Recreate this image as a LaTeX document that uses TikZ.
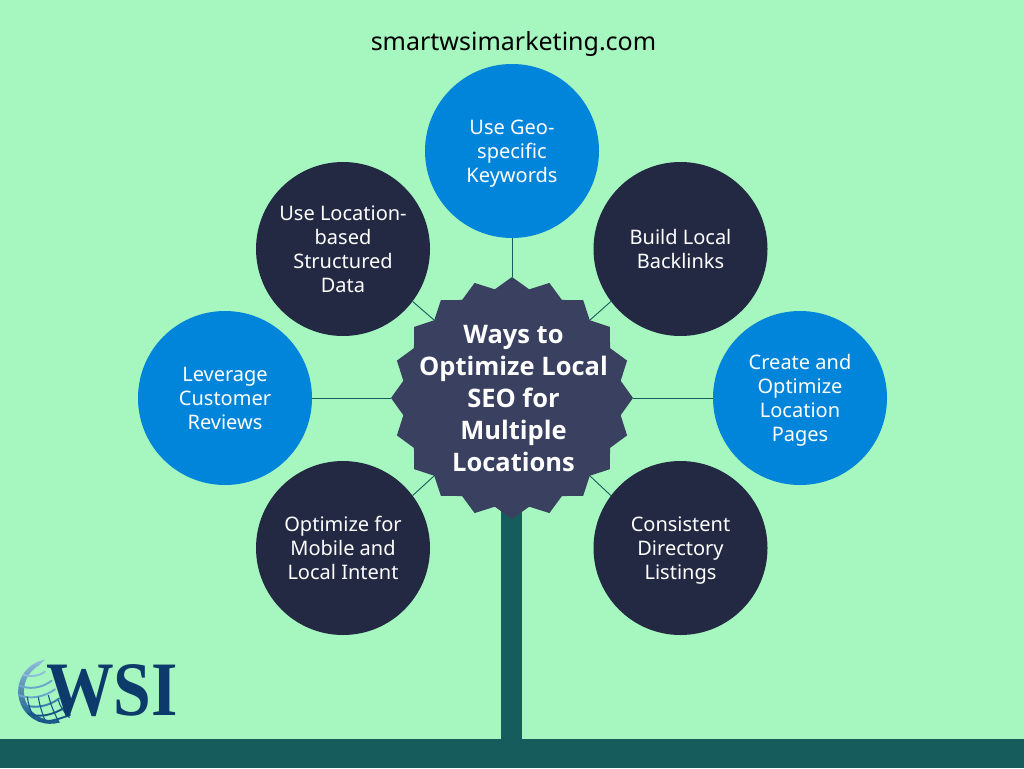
\documentclass[tikz,border=0pt]{standalone}
\usepackage{fontspec}
\usepackage{graphicx}
\setmainfont{Noto Sans}
\newfontfamily\titlefont{Open Sans}
\newfontfamily\logofont{Liberation Serif}
\usetikzlibrary{shapes.geometric}
\definecolor{bgc}{HTML}{A6F7BF}
\definecolor{teal}{HTML}{165C5C}
\definecolor{bluec}{HTML}{0085DB}
\definecolor{darkc}{HTML}{242943}
\definecolor{hubc}{HTML}{3A405F}
\definecolor{logoc}{HTML}{0B3A6B}
\definecolor{globeA}{HTML}{8FBEDA}
\definecolor{globeB}{HTML}{6BA6CC}
\definecolor{globeC}{HTML}{3A7EAD}
\definecolor{globeD}{HTML}{165586}
\newcommand{\bubtext}[1]{\raisebox{-15pt}{\smash{\begin{tabular}{@{}c@{}}#1\end{tabular}}}}
\tikzset{
  bubble/.style={circle,minimum size=174pt,inner sep=0pt,text=white,
    font=\fontsize{20}{24}\selectfont},
  bluebub/.style={bubble,fill=bluec},
  darkbub/.style={bubble,fill=darkc},
  hubstar/.style={star,star points=20,star point ratio=1.1,minimum size=242pt,inner sep=0pt,fill=hubc},
  link/.style={draw=teal,line width=0.9pt},
  glat/.style={line width=1.9pt,line cap=round},
  glon/.style={line width=1.1pt,draw=globeD},
}
\begin{document}
\begin{tikzpicture}[x=1pt,y=-1pt]
\useasboundingbox (0,0) rectangle (1024,768);
\fill[bgc] (0,0) rectangle (1024,768);
\fill[teal] (0,739) rectangle (1024,768);
\fill[teal] (501.2,500) rectangle (522.2,739);
\node (site) at (513.5,43.5) {\fontsize{25}{28}\selectfont smartwsimarketing.com};
\node[hubstar] (hub) at (512,398) {};
\node[bluebub] (geo) at (512,151) {\bubtext{Use Geo-\\specific\\Keywords}};
\node[darkbub] (struct) at (343,249) {\bubtext{Use Location-\\based\\Structured\\Data}};
\node[darkbub] (back) at (680.5,249) {\bubtext{Build Local\\Backlinks}};
\node[bluebub] (rev) at (225,398) {\bubtext{Leverage\\Customer\\Reviews}};
\node[bluebub] (pages) at (800,398) {\bubtext{Create and\\Optimize\\Location\\Pages}};
\node[darkbub] (mob) at (343,548) {\bubtext{Optimize for\\Mobile and\\Local Intent}};
\node[darkbub] (dir) at (680.5,548) {\bubtext{Consistent\\Directory\\Listings}};
\node[text=white,align=center,font=\titlefont\fontsize{25.5}{32}\selectfont\bfseries] (title) at (513.5,398.5)
  {Ways to\\Optimize Local\\SEO for\\Multiple\\Locations};
\draw[link] (geo) -- (hub);
\draw[link] (struct.-37) -- (hub.135);
\draw[link] (back.217) -- (hub.45);
\draw[link] (rev) -- (hub);
\draw[link] (pages) -- (hub);
\draw[link] (mob.37) -- (hub.225);
\draw[link] (dir.143) -- (hub.315);
% globe of the logo, in 3x crop coordinates
\begin{scope}[shift={(10,650)},x=0.3333pt,y=-0.3333pt]
  \shade[top color=globeA,bottom color=globeD]
    (121.5,124.5) ++(260:97) arc[start angle=260,end angle=75,radius=97]
    -- (145,210) arc[start angle=80,end angle=240,radius=88] -- cycle;
  \begin{scope}
    \clip (121.5,124.5) circle[radius=97];
    \draw[glat,draw=globeA] (35,72) .. controls (55,82) and (85,80) .. (105,65);
    \draw[glat,draw=globeB] (26,105) .. controls (55,120) and (95,115) .. (125,92);
    \draw[glat,draw=globeB] (26,135) .. controls (60,150) and (105,140) .. (135,118);
    \draw[glat,draw=globeC] (38,162) .. controls (70,178) and (115,170) .. (148,145);
    \draw[glat,draw=globeD] (55,190) .. controls (85,205) and (130,195) .. (165,172);
    \draw[glat,draw=globeD] (85,212) .. controls (110,218) and (140,210) .. (180,195);
    \draw[glon] (52,140) .. controls (55,165) and (62,185) .. (72,205);
    \draw[glon] (85,140) .. controls (88,165) and (97,190) .. (108,220);
    \draw[glon] (115,135) .. controls (122,165) and (135,195) .. (150,222);
    \draw[glon] (145,150) .. controls (150,170) and (165,190) .. (185,210);
  \end{scope}
\end{scope}
\node[font=\logofont\fontsize{77}{80}\selectfont\bfseries,text=logoc,inner sep=0pt] (wsi) at (112,691) {\scalebox{0.88}[1]{WSI}};
\end{tikzpicture}
\end{document}
